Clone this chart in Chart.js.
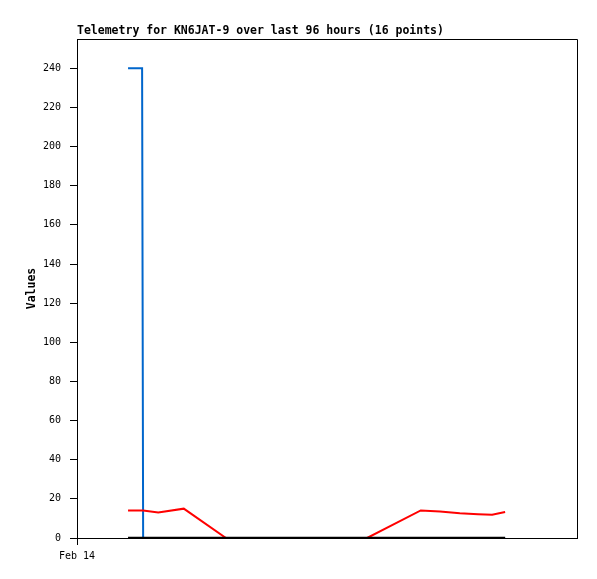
<!DOCTYPE html>
<html>
<head>
<meta charset="utf-8">
<script src="https://cdn.jsdelivr.net/npm/chart.js@4"></script>
<style>
html,body{margin:0;padding:0;background:#fff;}
#wrap{width:597px;height:579px;}
</style>
</head>
<body>
<div id="wrap"><canvas id="c" width="597" height="579"></canvas></div>
<script>
// Data (x in hours since Feb 14 00:00)
const timesHours = [9.8, 12.5, 12.7, 15.6, 20.5, 28.6, 35.1, 42.2, 49.2, 55.7, 66.0, 69.7, 73.5, 77.0, 79.7, 82.2];
const seriesBlack = [0, 0, 0, 0, 0, 0, 0, 0, 0, 0, 0, 0, 0, 0, 0, 0];
const seriesRed   = [14.1, 14.0, 14.0, 13.0, 15.0, 0, 0, 0, 0, 0, 14.1, 13.5, 12.6, 12.2, 11.9, 13.3];
const seriesBlue  = [240, 240, 0, 0, 0, 0, 0, 0, 0, 0, 0, 0, 0, 0, 0, 0];
const yTickValues = [0, 20, 40, 60, 80, 100, 120, 140, 160, 180, 200, 220, 240];
const xTickValues = [0];
const xTickLabels = ['Feb 14'];
const titleText = 'Telemetry for KN6JAT-9 over last 96 hours (16 points)';
const yAxisTitle = 'Values';

const toPts = (arr) => arr.map((v, i) => ({x: timesHours[i], y: v}));

const frame = {
  id: 'frame',
  beforeDatasetsDraw(chart) {
    const {ctx, chartArea: a} = chart;
    ctx.save();
    ctx.strokeStyle = '#000';
    ctx.lineWidth = 1;
    ctx.beginPath();
    ctx.moveTo(a.left, a.top + 0.5);
    ctx.lineTo(a.right + 0.5, a.top + 0.5);
    ctx.lineTo(a.right + 0.5, a.bottom);
    ctx.stroke();
    ctx.restore();
  }
};

const mono = 'DejaVu Sans Mono';

new Chart(document.getElementById('c'), {
  type: 'line',
  data: {
    datasets: [
      {data: toPts(seriesBlack), borderColor: '#000000', borderWidth: 2.5},
      {data: toPts(seriesRed), borderColor: '#ff0000', borderWidth: 2},
      {data: toPts(seriesBlue), borderColor: '#0066cc', borderWidth: 2}
    ]
  },
  options: {
    responsive: false,
    animation: false,
    devicePixelRatio: 1,
    layout: {padding: {left: 0, right: 20, top: 0, bottom: 0}},
    elements: {point: {radius: 0}, line: {tension: 0}},
    plugins: {
      legend: {display: false},
      tooltip: {enabled: false},
      title: {
        display: true,
        text: titleText,
        align: 'start',
        fullSize: false,
        color: '#000',
        font: {family: mono, size: 11.5, weight: 'bold', lineHeight: 1.2},
        padding: {top: 24, bottom: 1.2}
      }
    },
    scales: {
      x: {
        type: 'linear',
        min: 0,
        max: 96,
        afterFit(s) { s.height = 41; },
        afterBuildTicks(s) { s.ticks = xTickValues.map(v => ({value: v})); },
        ticks: {
          color: '#000',
          font: {family: mono, size: 10},
          padding: 5,
          maxRotation: 0,
          autoSkip: false,
          callback: (v) => { const i = xTickValues.indexOf(v); return i >= 0 ? xTickLabels[i] : ''; }
        },
        grid: {display: true, drawOnChartArea: false, drawTicks: true, tickLength: 7, color: '#000'},
        border: {display: true, color: '#000', width: 1}
      },
      y: {
        type: 'linear',
        min: 0,
        max: 255,
        afterFit(s) { s.width = 77; },
        afterBuildTicks(s) { s.ticks = yTickValues.map(v => ({value: v})); },
        ticks: {
          color: '#000',
          font: {family: mono, size: 10},
          padding: 9,
          autoSkip: false
        },
        grid: {display: true, drawOnChartArea: false, drawTicks: true, tickLength: 7, color: '#000'},
        border: {display: true, color: '#000', width: 1},
        title: {
          display: true,
          text: yAxisTitle,
          color: '#000',
          font: {family: mono, size: 11.5, weight: 'bold'},
          padding: {top: 25, bottom: 0}
        }
      }
    }
  },
  plugins: [frame]
});
</script>
</body>
</html>
